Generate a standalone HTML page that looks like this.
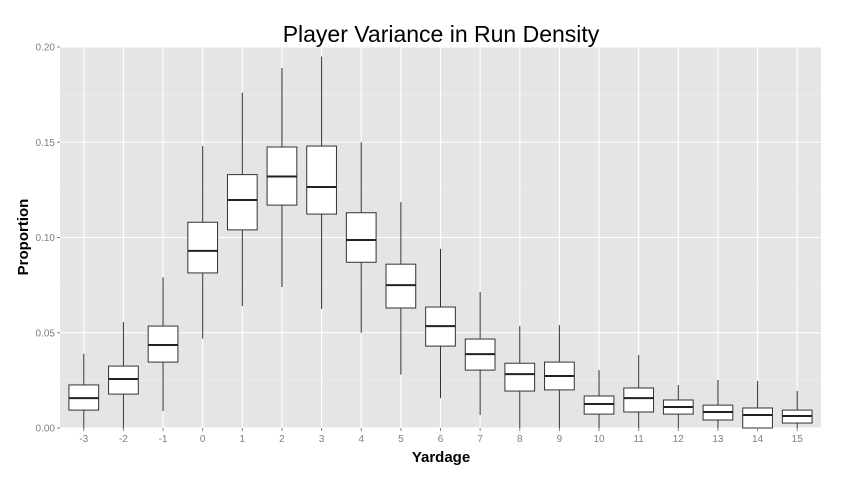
<!DOCTYPE html>
<html><head><meta charset="utf-8"><style>
body{margin:0;background:#fff;font-family:"Liberation Sans",sans-serif}
</style></head><body>
<svg id="c" width="841" height="476" xmlns="http://www.w3.org/2000/svg">
<rect width="841" height="476" fill="#fff"/>
<rect x="60" y="47" width="761" height="381" fill="#e5e5e5"/>
<g id="grid"></g><g id="boxes"></g><g id="axes"></g>
<text x="441" y="42" text-anchor="middle" font-size="23" fill="#000">Player Variance in Run Density</text>
<text x="441" y="462" text-anchor="middle" font-size="15" font-weight="bold">Yardage</text>
<text transform="translate(28,237) rotate(-90)" text-anchor="middle" font-size="15" font-weight="bold">Proportion</text>
</svg>
<script>
const categories=["-3","-2","-1","0","1","2","3","4","5","6","7","8","9","10","11","12","13","14","15"];
const whiskerLow=[0,0,0.0089,0.047,0.064,0.074,0.0625,0.05,0.028,0.0157,0.0068,0,0,0,0,0,0,0,0];
const q1=[0.0094,0.0178,0.0346,0.0814,0.104,0.117,0.1123,0.087,0.063,0.043,0.0304,0.0194,0.02,0.0073,0.0084,0.0073,0.0042,0,0.0026];
const medians=[0.0157,0.0257,0.0436,0.093,0.1197,0.132,0.1265,0.0987,0.075,0.0535,0.0388,0.0283,0.0273,0.0126,0.0157,0.011,0.0084,0.0068,0.0063];
const q3=[0.0226,0.0325,0.0535,0.108,0.133,0.1475,0.148,0.113,0.086,0.0635,0.0467,0.034,0.0346,0.0168,0.021,0.0147,0.012,0.0105,0.0094];
const whiskerHigh=[0.039,0.0556,0.079,0.148,0.176,0.189,0.195,0.150,0.1186,0.094,0.0714,0.0535,0.054,0.0304,0.0383,0.0226,0.0252,0.0247,0.0194];
const yTicks=[0,0.05,0.10,0.15,0.20];
const yTickLabels=["0.00","0.05","0.10","0.15","0.20"];
const yMinor=[0.025,0.075,0.125,0.175];
const NS="http://www.w3.org/2000/svg";
const x0=60,x1=821,y0=428,y1=47,yMax=0.2;
const step=(x1-x0)/(categories.length-1+1.2);
const xs=i=>x0+step*(i+0.6);
const ys=v=>y0-(v/yMax)*(y0-y1);
function mk(parent,tag,attrs){const e=document.createElementNS(NS,tag);for(const k in attrs)e.setAttribute(k,attrs[k]);document.getElementById(parent).appendChild(e);return e;}
yMinor.forEach(v=>{const l=mk('grid','line',{x1:x0,x2:x1,y1:ys(v),y2:ys(v),stroke:'#f2f2f2','stroke-width':0.6});

});
yTicks.forEach((v,i)=>{const l=mk('grid','line',{x1:x0,x2:x1,y1:ys(v),y2:ys(v),stroke:'#fff','stroke-width':1.1});


const t=mk('axes','text',{x:x0-5,y:ys(v)+3.5,'text-anchor':'end','font-size':10,fill:'#7f7f7f'});t.textContent=yTickLabels[i];


const tk=mk('axes','line',{x1:x0-3,x2:x0,y1:ys(v),y2:ys(v),stroke:'#7f7f7f'});

});
categories.forEach((c,i)=>{const x=xs(i);
const g=mk('grid','line',{x1:x,x2:x,y1:y1,y2:y0,stroke:'#fff','stroke-width':1.1});


const w=mk('boxes','line',{x1:x,x2:x,y1:ys(whiskerLow[i]),y2:ys(whiskerHigh[i]),stroke:'#333','stroke-width':1});


const bw=step*0.75;
const b=mk('boxes','rect',{x:x-bw/2,y:ys(q3[i]),width:bw,height:ys(q1[i])-ys(q3[i]),fill:'#fff',stroke:'#333','stroke-width':1});


const m=mk('boxes','line',{x1:x-bw/2,x2:x+bw/2,y1:ys(medians[i]),y2:ys(medians[i]),stroke:'#222','stroke-width':2});


const tk=mk('axes','line',{x1:x,x2:x,y1:y0,y2:y0+3,stroke:'#7f7f7f'});


const t=mk('axes','text',{x:x,y:y0+14,'text-anchor':'middle','font-size':10,fill:'#7f7f7f'});t.textContent=c;

});
</script>
</body></html>
